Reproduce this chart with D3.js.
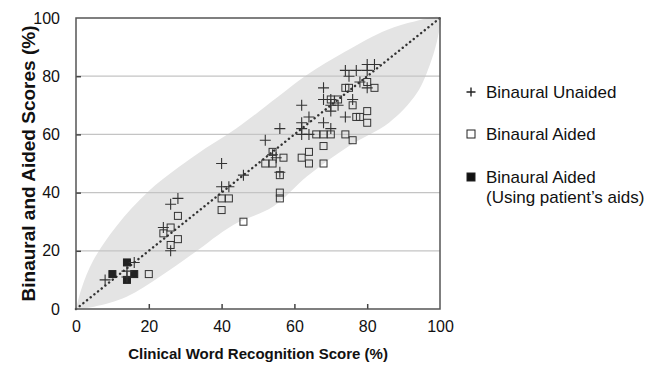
<!DOCTYPE html>
<html>
<head>
<meta charset="utf-8">
<script src="https://cdn.jsdelivr.net/npm/d3@7"></script>
<style>
  body { margin: 0; background: #fff; }
  text { font-family: "Liberation Sans", Arial, sans-serif; fill: #111; }
</style>
</head>
<body>
<svg id="chart" width="666" height="371"></svg>
<script>
// values (clinical %, binaural %)
const unaided = [
  [8, 10], [14, 13], [16, 16], [14, 11],
  [24, 28], [26, 20], [26, 36], [28, 38],
  [40, 50], [40, 42], [42, 42], [46, 46],
  [52, 58], [54, 53], [56, 62], [56, 47], [55, 52],
  [62, 70], [62, 64], [64, 66], [62, 62], [68, 64], [70, 62], [62, 60], [64, 60],
  [68, 76], [68, 72], [70, 72], [70, 70], [72, 70], [70, 68], [76, 72], [74, 66],
  [74, 82], [77, 82], [80, 84], [82, 84], [80, 82], [75, 80], [78, 78], [80, 76]
];
const aided = [
  [20, 12], [24, 26], [26, 28], [28, 24], [26, 22], [28, 32],
  [40, 38], [42, 38], [40, 34], [46, 30],
  [52, 50], [54, 50], [54, 54], [56, 46], [56, 40], [56, 38], [57, 52],
  [62, 52], [64, 54], [64, 50], [68, 50], [68, 56],
  [66, 60], [68, 60], [70, 60], [74, 60], [76, 58],
  [70, 72], [72, 72], [76, 70], [77, 66], [78, 66], [80, 68], [80, 64],
  [74, 76], [75, 76], [80, 78], [82, 76]
];
const aidedOwn = [[10, 12], [14, 16], [16, 12], [14, 10]];

// outline of the shaded band
const bandUpper = [[0, 0], [1.5, 7], [4.8, 16.8], [11, 28.3], [20.3, 40.9], [33, 53], [44, 62],
  [55.5, 72.9], [63.4, 80.4], [74, 88.5], [85.4, 95.9], [93, 98.8], [100, 100]];
const bandLower = [[100, 100], [99.5, 94], [97.5, 85], [93.6, 74.1], [86, 64], [75, 56], [63.4, 45.5],
  [54.2, 35.2], [43.2, 28.9], [32.2, 19.1], [23, 11.1], [13.9, 4.2], [5, 0.8], [0, 0]];

const ticks = [0, 20, 40, 60, 80, 100];
const legendItems = [
  { type: "plus", lines: ["Binaural Unaided"] },
  { type: "open", lines: ["Binaural Aided"] },
  { type: "filled", lines: ["Binaural Aided", "(Using patient\u2019s aids)"] }
];

const svg = d3.select("#chart");
const m = { left: 76, top: 18, right: 440, bottom: 309 };

const x = d3.scaleLinear().domain([0, 100]).range([m.left, m.right]);
const y = d3.scaleLinear().domain([0, 100]).range([m.bottom, m.top]);

// shaded band
const band = d3.line().x(d => x(d[0])).y(d => y(d[1])).curve(d3.curveCatmullRom.alpha(0.5));
svg.append("path")
  .attr("d", band(bandUpper.concat(bandLower.slice(1))))
  .attr("fill", "#e4e4e4");

// grid
svg.append("g")
  .selectAll("line")
  .data(ticks.slice(1, -1))
  .join("line")
  .attr("x1", m.left).attr("x2", m.right)
  .attr("y1", d => y(d)).attr("y2", d => y(d))
  .attr("stroke", "#c4c4c4").attr("stroke-width", 1.2);

// diagonal
svg.append("line")
  .attr("x1", x(0)).attr("y1", y(0)).attr("x2", x(100)).attr("y2", y(100))
  .attr("stroke", "#333").attr("stroke-width", 2.4)
  .attr("stroke-linecap", "round").attr("stroke-dasharray", "0.1,4.6");

// axes
const xAxis = svg.append("g")
  .attr("transform", `translate(0,${m.bottom})`)
  .call(d3.axisBottom(x).tickValues(ticks).tickSize(-5).tickPadding(12));
const yAxis = svg.append("g")
  .attr("transform", `translate(${m.left},0)`)
  .call(d3.axisLeft(y).tickValues(ticks).tickSize(-5).tickPadding(16));
[xAxis, yAxis].forEach(g => {
  g.select(".domain").remove();
  g.selectAll(".tick line").attr("stroke", "#444").attr("stroke-width", 1.5);
  g.selectAll(".tick text").attr("font-size", 16).attr("fill", "#111")
    .attr("font-family", "Liberation Sans, Arial, sans-serif");
});
xAxis.selectAll(".tick line").filter(d => d === 0 || d === 100).remove();
yAxis.selectAll(".tick line").filter(d => d === 0 || d === 100).remove();

// frame
svg.append("rect")
  .attr("x", m.left).attr("y", m.top)
  .attr("width", m.right - m.left).attr("height", m.bottom - m.top)
  .attr("fill", "none").attr("stroke", "#555").attr("stroke-width", 1.5);

// markers
const plusPath = s => `M${-s},0H${s}M0,${-s}V${s}`;
svg.append("g").selectAll("rect")
  .data(aided)
  .join("rect")
  .attr("x", d => x(d[0]) - 3.5).attr("y", d => y(d[1]) - 3.5)
  .attr("width", 7).attr("height", 7)
  .attr("fill", "none").attr("stroke", "#333").attr("stroke-width", 1);
svg.append("g").selectAll("rect")
  .data(aidedOwn)
  .join("rect")
  .attr("x", d => x(d[0]) - 3.5).attr("y", d => y(d[1]) - 3.5)
  .attr("width", 7).attr("height", 7)
  .attr("fill", "#222").attr("stroke", "#222").attr("stroke-width", 1);
svg.append("g").selectAll("path")
  .data(unaided)
  .join("path")
  .attr("transform", d => `translate(${x(d[0])},${y(d[1])})`)
  .attr("d", plusPath(5.5))
  .attr("stroke", "#333").attr("stroke-width", 1.1).attr("fill", "none");

// axis titles
svg.append("text")
  .attr("x", x(50)).attr("y", 359)
  .attr("text-anchor", "middle").attr("font-size", 15).attr("font-weight", "bold")
  .text("Clinical Word Recognition Score (%)");
svg.append("text")
  .attr("transform", `translate(35,${y(50)}) rotate(-90)`)
  .attr("text-anchor", "middle").attr("font-size", 19).attr("font-weight", "bold")
  .text("Binaural and Aided Scores (%)");

// legend
const lg = svg.append("g");
const rowY = [92, 134, 177];
legendItems.forEach((it, i) => {
  const g = lg.append("g").attr("transform", `translate(471,${rowY[i]})`);
  if (it.type === "plus") {
    g.append("path").attr("d", plusPath(4.5)).attr("stroke", "#222").attr("stroke-width", 1.4);
  } else {
    g.append("rect").attr("x", -4).attr("y", -4).attr("width", 8).attr("height", 8)
      .attr("fill", it.type === "filled" ? "#111" : "#fff")
      .attr("stroke", "#222").attr("stroke-width", 1);
  }
  it.lines.forEach((t, j) => {
    g.append("text").attr("x", 15).attr("y", 6 + j * 20)
      .attr("font-size", 17).text(t);
  });
});
</script>
</body>
</html>
